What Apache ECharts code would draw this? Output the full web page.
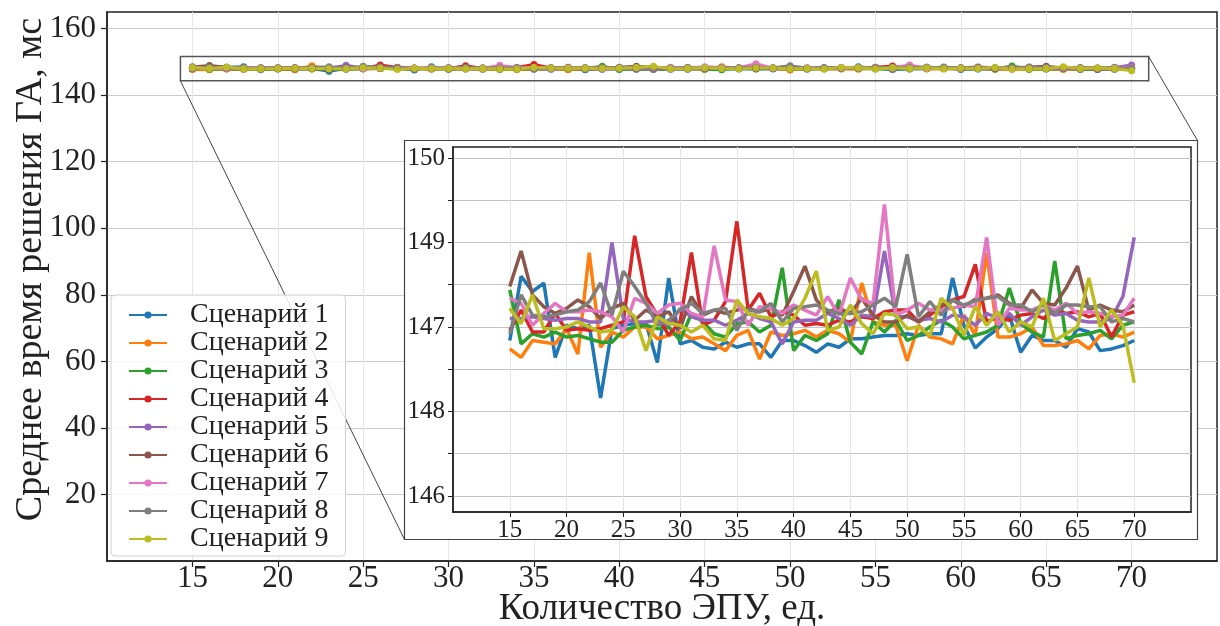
<!DOCTYPE html>
<html><head><meta charset="utf-8">
<script src="https://cdn.jsdelivr.net/npm/echarts@6/dist/echarts.min.js"></script>
<style>html,body{margin:0;padding:0;background:#fff}#c{width:1220px;height:626px}</style>
</head><body><div id="c"></div>
<script>
// ---- data ----
const xValues = [15,16,17,18,19,20,21,22,23,24,25,26,27,28,29,30,31,32,33,34,35,36,37,38,39,40,41,42,43,44,45,46,47,48,49,50,51,52,53,54,55,56,57,58,59,60,61,62,63,64,65,66,67,68,69,70];
const seriesNames = ['Сценарий 1','Сценарий 2','Сценарий 3','Сценарий 4','Сценарий 5','Сценарий 6','Сценарий 7','Сценарий 8','Сценарий 9'];
const s1 = [147.84,148.60,148.42,148.52,147.64,148.02,147.98,148.02,147.16,147.98,148.02,148.04,148.04,147.58,148.58,147.80,147.84,147.76,147.74,147.82,147.76,147.80,147.80,147.64,147.84,147.84,147.78,147.70,147.80,147.76,147.86,147.86,147.88,147.90,147.90,147.92,147.90,147.92,147.92,148.58,148.02,147.75,147.88,147.98,148.14,147.70,147.90,147.84,147.84,147.76,147.98,147.94,147.72,147.74,147.78,147.84];
const s2 = [147.74,147.64,147.84,147.82,147.80,147.98,147.68,148.88,147.76,147.94,147.88,148.00,148.00,147.86,147.90,147.94,147.86,147.88,147.80,147.72,147.90,147.96,147.62,147.94,147.90,147.92,147.96,147.88,147.96,147.92,147.82,148.52,148.06,148.02,148.02,147.60,148.02,147.88,147.86,147.80,148.14,147.90,148.88,147.88,147.88,147.92,148.00,147.78,147.78,147.80,147.84,147.74,147.90,147.92,147.88,147.94];
const s3 = [148.44,147.80,147.92,147.88,147.94,147.88,147.90,147.86,147.82,147.82,147.96,148.00,148.02,147.98,148.00,147.84,148.16,148.06,147.92,147.88,148.04,148.06,147.94,148.02,148.70,147.72,147.90,147.84,147.92,148.32,147.82,147.68,148.06,147.94,148.08,147.84,147.90,148.00,148.08,148.00,147.86,147.90,147.94,148.02,148.46,148.04,147.94,147.88,148.78,147.86,147.90,147.92,147.96,147.86,148.02,148.06];
const s4 = [147.96,148.20,147.94,147.94,148.16,147.96,147.98,147.96,147.98,148.02,148.06,149.08,148.36,148.14,147.90,148.06,148.88,148.02,148.08,148.30,149.25,148.20,148.40,148.12,148.18,148.14,148.02,148.04,148.02,148.08,148.06,148.12,148.10,148.18,148.20,148.20,148.06,148.14,148.24,148.32,148.36,148.74,148.06,148.12,148.08,148.14,148.16,148.10,148.20,148.16,148.18,148.12,148.16,147.88,148.14,148.18];
const s5 = [148.10,148.10,148.12,148.10,148.08,148.10,148.10,148.06,148.06,149.00,148.10,148.06,148.06,148.08,148.02,148.22,148.12,148.08,148.08,148.02,148.08,148.16,148.10,148.06,147.80,148.06,148.08,148.08,148.16,148.10,148.02,148.14,148.12,148.90,148.12,148.12,148.08,148.10,148.06,148.14,148.12,148.02,148.16,148.10,148.16,148.02,148.12,148.20,148.14,148.16,148.08,148.06,148.06,148.10,148.36,149.06];
const s6 = [148.48,148.90,148.38,148.24,148.16,148.22,148.32,148.24,148.10,148.22,148.28,148.08,148.20,148.12,148.18,147.98,148.36,148.14,148.20,148.16,148.20,148.22,148.18,148.22,148.14,148.42,148.72,148.32,148.18,148.22,148.16,148.34,148.14,148.06,148.06,148.14,148.06,148.18,148.26,148.32,148.24,148.33,148.34,148.38,148.28,148.22,148.44,148.28,148.26,148.46,148.72,148.20,148.26,148.20,148.18,148.26];
const s7 = [148.34,148.28,148.02,148.16,148.28,148.18,148.18,148.20,148.18,148.12,147.94,148.34,148.28,148.16,148.26,148.28,148.16,148.12,148.96,148.32,148.30,148.02,148.24,148.22,148.16,148.26,148.20,148.14,148.36,148.14,148.58,148.32,148.28,149.45,148.14,148.20,148.28,148.20,148.20,148.22,148.26,148.24,149.06,148.02,148.22,148.20,148.20,148.26,148.20,148.28,148.16,148.18,148.16,148.12,148.14,148.34];
const s8 = [147.92,148.38,148.14,148.12,148.14,148.18,148.20,148.30,148.52,148.14,148.66,148.48,148.28,148.02,148.08,148.20,148.28,148.16,148.20,148.22,147.96,148.20,148.18,148.28,148.06,148.22,148.24,148.26,148.20,148.16,148.16,148.18,148.26,148.34,148.24,148.86,148.12,148.30,148.14,148.32,148.26,148.31,148.34,148.36,148.26,148.26,148.18,148.26,148.16,148.26,148.26,148.24,148.24,148.06,148.10,148.06];
const s9 = [148.22,148.04,148.38,147.98,147.98,148.00,148.06,148.00,147.94,147.96,148.24,148.12,147.72,148.12,148.04,148.02,147.94,148.02,147.86,147.84,148.32,148.16,148.12,148.10,148.02,148.10,148.34,148.66,147.96,148.00,148.26,148.04,147.92,148.16,148.14,147.98,148.00,147.90,148.34,148.22,147.90,148.24,148.02,148.18,147.94,148.06,148.00,148.34,147.84,147.92,148.00,148.58,148.00,148.20,148.02,147.34];
const allSeries = [s1,s2,s3,s4,s5,s6,s7,s8,s9];

const mainXTicks = [15,20,25,30,35,40,45,50,55,60,65,70];
const mainYTicks = [20,40,60,80,100,120,140,160];
const insetXTicks = [15,20,25,30,35,40,45,50,55,60,65,70];
const insetYTickValues = [146,147,148,149,150];
const insetYTickLabels = ['146','148','147','149','150'];
const insetYMinorTicks = [146,146.5,147,147.5,148,148.5,149,149.5,150];
// zoomed region shown by the inset (main chart data coords)
const zoomBox = {x0: 14.3, x1: 71.0, y0: 144.3, y1: 151.6};

const colors = ['#1f77b4','#ff7f0e','#2ca02c','#d62728','#9467bd','#8c564b','#e377c2','#7f7f7f','#bcbd22'];
const FONT = 'Liberation Serif';

const chart = echarts.init(document.getElementById('c'), null, {renderer:'canvas'});

const series = [];
allSeries.forEach((arr, i) => {
  const s = {
    name: seriesNames[i], type: 'line', xAxisIndex: 0, yAxisIndex: 0,
    data: xValues.map((x, j) => [x, arr[j]]), symbol: 'circle', symbolSize: 7, showSymbol: true,
    lineStyle: {width: 3, color: colors[i]}, itemStyle: {color: colors[i]},
    emphasis: {disabled: true}, animation: false, z: 2
  };
  if (i === 0) {
    s.markArea = {
      silent: true, z: 3,
      itemStyle: {color: 'rgba(0,0,0,0)', borderColor: '#555', borderWidth: 1.5},
      data: [[{coord: [zoomBox.x0, zoomBox.y1]}, {coord: [zoomBox.x1, zoomBox.y0]}]]
    };
  }
  series.push(s);
});
allSeries.forEach((arr, i) => {
  series.push({
    name: seriesNames[i], type: 'line', xAxisIndex: 1, yAxisIndex: 1,
    data: xValues.map((x, j) => [x, arr[j]]), showSymbol: false, symbol: 'none',
    lineStyle: {width: 3.5, color: colors[i]}, itemStyle: {color: colors[i]},
    emphasis: {disabled: true}, animation: false, z: 8
  });
});

const frame = {x: 404.5, y: 140.5, w: 793, h: 399};

const option = {
  animation: false,
  backgroundColor: '#fff',
  textStyle: {fontFamily: FONT},
  color: colors,
  grid: [
    {left: 107, right: 3, top: 12, bottom: 65, show: true, borderColor: '#222', borderWidth: 1.5, containLabel: false, outerBoundsMode: 'none'},
    {left: 453, right: 29, top: 147, bottom: 114, show: true, borderColor: '#222', borderWidth: 1.5, backgroundColor: '#fff', z: 6, outerBoundsMode: 'none'}
  ],
  xAxis: [
    {type: 'value', gridIndex: 0, min: 10, max: 75, interval: 5,
     name: 'Количество ЭПУ, ед.', nameLocation: 'middle', nameGap: 30, nameMoveOverlap: false,
     nameTextStyle: {fontSize: 37, color: '#222', fontFamily: FONT},
     axisLine: {lineStyle: {color: '#222', width: 1.5}},
     axisTick: {show: true, length: 6, customValues: mainXTicks, lineStyle: {color: '#222', width: 1.2}},
     axisLabel: {fontSize: 31, color: '#222', margin: 2, fontFamily: FONT, customValues: mainXTicks},
     splitLine: {show: true, lineStyle: {color: '#e6e6e6', width: 1}}},
    {type: 'value', gridIndex: 1, min: 10, max: 75, interval: 5, z: 6,
     axisLine: {lineStyle: {color: '#222', width: 1.5}},
     axisTick: {show: true, length: 5, customValues: insetXTicks, lineStyle: {color: '#222', width: 1}},
     axisLabel: {fontSize: 25, color: '#222', margin: 6, fontFamily: FONT, customValues: insetXTicks},
     splitLine: {show: true, lineStyle: {color: '#e3e3e3', width: 1}}}
  ],
  yAxis: [
    {type: 'value', gridIndex: 0, min: 0, max: 165, interval: 20,
     name: 'Среднее время решения ГА, мс', nameLocation: 'middle', nameGap: 57, nameRotate: 90, nameMoveOverlap: false,
     nameTextStyle: {fontSize: 38, color: '#222', fontFamily: FONT, padding: [0, 0, 0, 34]},
     axisLine: {show: true, lineStyle: {color: '#222', width: 1.5}},
     axisTick: {show: true, length: 6, customValues: mainYTicks, lineStyle: {color: '#222', width: 1.2}},
     axisLabel: {fontSize: 31, color: '#222', margin: 11, fontFamily: FONT, customValues: mainYTicks},
     splitLine: {show: true, lineStyle: {color: '#cdcdcd', width: 1.2}}},
    {type: 'value', gridIndex: 1, min: 145.81, max: 150.13, z: 6,
     axisLine: {show: true, lineStyle: {color: '#222', width: 1.5}},
     axisTick: {show: true, length: 5, customValues: insetYMinorTicks, lineStyle: {color: '#222', width: 1}},
     axisLabel: {fontSize: 25, color: '#222', margin: 8, fontFamily: FONT, customValues: insetYTickValues,
       formatter: v => { for (let k = 0; k < insetYTickValues.length; k++) { if (Math.abs(insetYTickValues[k] - v) < 1e-6) return insetYTickLabels[k]; } return ''; }},
     splitLine: {show: true, lineStyle: {color: '#c4c4c4', width: 1.2}}}
  ],
  legend: {
    show: true, orient: 'vertical', left: 111, top: 295, z: 10,
    data: seriesNames,
    backgroundColor: 'rgba(255,255,255,0.85)', borderColor: '#d0d0d0', borderWidth: 1, borderRadius: 4,
    padding: [6, 17, 3, 17],
    itemWidth: 38, itemHeight: 9, itemGap: 0,
    selectedMode: false,
    textStyle: {fontSize: 28, color: '#222', fontFamily: FONT, lineHeight: 28, padding: [0, 0, 0, 18]}
  },
  series: series
};
chart.setOption(option);

// inset frame and connector lines
const pBL = chart.convertToPixel({gridIndex: 0}, [zoomBox.x0, zoomBox.y0]);
const pTR = chart.convertToPixel({gridIndex: 0}, [zoomBox.x1, zoomBox.y1]);
chart.setOption({
  graphic: [
    {type: 'rect', z: 5, silent: true, shape: {x: frame.x, y: frame.y, width: frame.w, height: frame.h},
     style: {fill: '#fff', stroke: '#444', lineWidth: 1.2}},
    {type: 'line', z: 4, silent: true, shape: {x1: pBL[0], y1: pBL[1], x2: frame.x, y2: frame.y + frame.h},
     style: {stroke: '#444', lineWidth: 1}},
    {type: 'line', z: 4, silent: true, shape: {x1: pTR[0], y1: pTR[1], x2: frame.x + frame.w, y2: frame.y},
     style: {stroke: '#444', lineWidth: 1}}
  ]
});
</script></body></html>
